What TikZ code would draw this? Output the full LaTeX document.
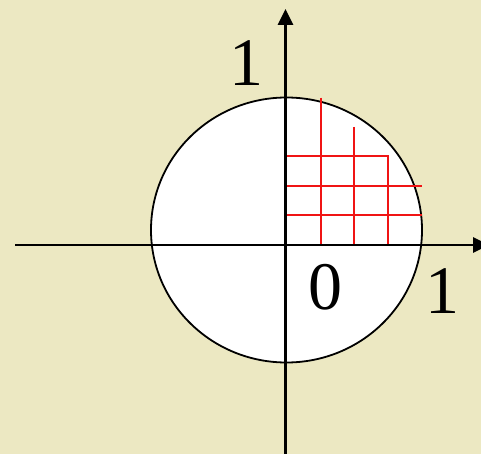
\documentclass[tikz,border=0pt]{standalone}
\usepackage{fontspec}
\setmainfont{Liberation Serif}
\usetikzlibrary{arrows.meta}
\definecolor{parch}{RGB}{236,232,194}
\definecolor{gridred}{RGB}{240,20,20}
\tikzset{
  axisline/.style={line width=2.8pt,-{Triangle[length=16pt,width=15pt]}},
  gridline/.style={draw=gridred,line width=2.2pt},
  digit/.style={font=\fontsize{68}{68}\selectfont,inner sep=0pt}
}
\begin{document}
\begin{tikzpicture}[x=1pt,y=-1pt]
\fill[parch] (0,0) rectangle (481,454);
\useasboundingbox (0,0) rectangle (481,454);
% disc
\draw[fill=white,line width=1.8pt] (286.5,230) ellipse [x radius=135.5,y radius=132.5];
% coordinates
\coordinate (O) at (285.5,245);
\coordinate (xl) at (15,245);
\coordinate (xr) at (489,245);
\coordinate (yb) at (285.5,454);
\coordinate (yt) at (285.5,9);
\coordinate (v1t) at (320.7,97.7);
\coordinate (v1b) at (320.7,245);
\coordinate (v2t) at (354.3,127);
\coordinate (v2b) at (354.3,245);
\coordinate (v3t) at (388.3,156.3);
\coordinate (v3b) at (388.3,245);
\coordinate (h1l) at (285.5,156.3);
\coordinate (h2l) at (285.5,185.7);
\coordinate (h2r) at (421.7,185.7);
\coordinate (h3l) at (285.5,215);
\coordinate (h3r) at (421.7,215);
% red grid
\draw[gridline] (v1t) -- (v1b);
\draw[gridline] (v2t) -- (v2b);
\draw[gridline,line join=miter] (h1l) -- (v3t) -- (v3b);
\draw[gridline] (h2l) -- (h2r);
\draw[gridline] (h3l) -- (h3r);
% axes
\draw[axisline] (xl) -- (xr);
\draw[axisline] (yb) -- (yt);
% labels
\node[digit] (ly) at (246,63.5) {1};
\node[digit] (lo) at (325.7,287) {0};
\node[digit] (lx) at (442,291) {1};
\end{tikzpicture}
\end{document}
